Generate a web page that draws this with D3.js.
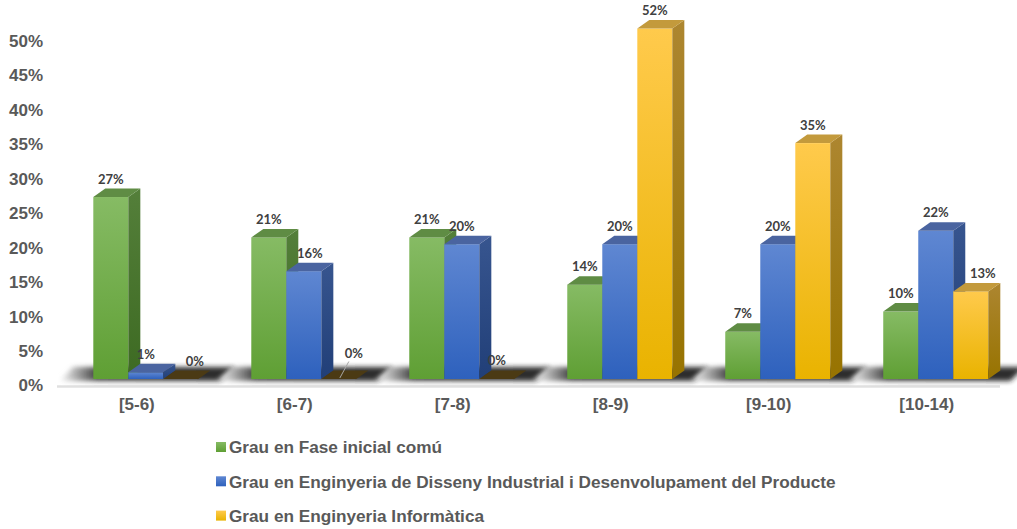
<!DOCTYPE html>
<html>
<head>
<meta charset="utf-8">
<script src="https://cdn.jsdelivr.net/npm/d3@7"></script>
<style>
  body { margin: 0; background: #fff; }
  svg { display: block; }
  .axis text { font-family: "Liberation Sans", Arial, sans-serif; font-weight: bold; font-size: 17px; fill: #595959; }
  .lbl { font-family: Lato, "Open Sans", sans-serif; font-weight: bold; font-size: 13px; fill: #404040; }
  .legend text { font-family: "Liberation Sans", Arial, sans-serif; font-weight: bold; font-size: 17.2px; fill: #595959; }
</style>
</head>
<body>
<svg id="chart" width="1017" height="529"></svg>
<script>
var categories = ["[5-6)", "[6-7)", "[7-8)", "[8-9)", "[9-10)", "[10-14)"];
var seriesNames = [
  "Grau en Fase inicial comú",
  "Grau en Enginyeria de Disseny Industrial i Desenvolupament del Producte",
  "Grau en Enginyeria Informàtica"
];
var faseInicial = [27, 21, 21, 14, 7, 10];
var disseny = [1, 16, 20, 20, 20, 22];
var informatica = [0, 0, 0, 52, 35, 13];
var yTicks = [0, 5, 10, 15, 20, 25, 30, 35, 40, 45, 50];

var seriesValues = [faseInicial, disseny, informatica];

// colours per series: front top/bottom, side top/bottom, top face
var palette = [
  { f1: "#86bb64", f2: "#5f9f34", s1: "#547f3a", s2: "#3d6a22", t: "#5f8c44" },
  { f1: "#5f87d2", f2: "#2e61bd", s1: "#37558f", s2: "#213f78", t: "#4a64a0" },
  { f1: "#ffca4c", f2: "#e9b300", s1: "#ad8630", s2: "#977300", t: "#c39a3c" }
];

var svg = d3.select("#chart");
var depthX = 12, depthY = 8.5;
var floorY = 379;

var x0 = d3.scaleBand().domain(categories).range([93.3, 988.3]).paddingInner(0.335).paddingOuter(0);
var x1 = d3.scaleBand().domain(d3.range(3)).range([0, x0.bandwidth()]);
var y = d3.scaleLinear().domain([0, 50]).range([floorY, floorY - 337]);
var yAxisScale = d3.scaleLinear().domain([0, 50]).range([385.5, 41]);

// gradients
var defs = svg.append("defs");
palette.forEach(function(p, i) {
  var g = defs.append("linearGradient").attr("id", "front" + i).attr("x1", 0).attr("y1", 0).attr("x2", 0).attr("y2", 1);
  g.append("stop").attr("offset", "0%").attr("stop-color", p.f1);
  g.append("stop").attr("offset", "100%").attr("stop-color", p.f2);
  var s = defs.append("linearGradient").attr("id", "side" + i).attr("x1", 0).attr("y1", 0).attr("x2", 0).attr("y2", 1);
  s.append("stop").attr("offset", "0%").attr("stop-color", p.s1);
  s.append("stop").attr("offset", "100%").attr("stop-color", p.s2);
});
var sg = defs.append("linearGradient").attr("id", "shadow").attr("x1", 0).attr("y1", 0).attr("x2", 1).attr("y2", 0);
sg.append("stop").attr("offset", "0%").attr("stop-color", "#ffffff");
sg.append("stop").attr("offset", "22%").attr("stop-color", "#2e2e2e");
sg.append("stop").attr("offset", "100%").attr("stop-color", "#1a1a1a");
defs.append("filter").attr("id", "blur").attr("x", "-20%").attr("y", "-100%").attr("width", "140%").attr("height", "300%")
  .append("feGaussianBlur").attr("stdDeviation", 2.5);

// y axis labels
svg.append("g").attr("class", "axis")
  .selectAll("text").data(yTicks).join("text")
  .attr("x", 43).attr("y", function(d) { return yAxisScale(d); })
  .attr("dy", "0.35em").attr("text-anchor", "end")
  .text(function(d) { return d + "%"; });

// floor line
svg.append("line").attr("x1", 57).attr("x2", 1000).attr("y1", 386.5).attr("y2", 386.5)
  .attr("stroke", "#e0e0e0").attr("stroke-width", 2.5);

// floor shadows
svg.append("g").selectAll("polygon").data(categories).join("polygon")
  .attr("points", function(d) {
    var a = x0(d) - 34, b = x0(d) + x0.bandwidth() + 22;
    return [[a, floorY + 2], [a + 14, floorY - 12], [b + 14, floorY - 12], [b, floorY + 2]].join(" ");
  })
  .attr("fill", "url(#shadow)")
  .attr("opacity", 0.92)
  .attr("filter", "url(#blur)");

// bars
var groups = svg.append("g").selectAll("g").data(categories).join("g")
  .attr("transform", function(d) { return "translate(" + x0(d) + ",0)"; });

// label shifts where the labels would collide (series index after the dash)
var labelNudge = { "0-2": [14, 0], "1-1": [6, 0], "1-2": [15, -8], "2-2": [0, -1], "5-2": [12, 0] };

groups.each(function(cat, ci) {
  var g = d3.select(this);
  seriesValues.forEach(function(vals, si) {
    var v = vals[ci];
    var bx = x1(si), bw = x1.bandwidth();
    var top = y(v);
    var p = palette[si];
    if (v > 0) {
      g.append("rect").attr("x", bx).attr("y", top).attr("width", bw).attr("height", floorY - top)
        .attr("fill", "url(#front" + si + ")");
      g.append("polygon")
        .attr("points", [[bx + bw, top], [bx + bw + depthX, top - depthY], [bx + bw + depthX, floorY - depthY], [bx + bw, floorY]].join(" "))
        .attr("fill", "url(#side" + si + ")");
      g.append("polygon")
        .attr("points", [[bx, top], [bx + depthX, top - depthY], [bx + bw + depthX, top - depthY], [bx + bw, top]].join(" "))
        .attr("fill", p.t);
    } else {
      g.append("polygon")
        .attr("points", [[bx, top], [bx + depthX, top - depthY], [bx + bw + depthX, top - depthY], [bx + bw, top]].join(" "))
        .attr("fill", "#4b3a14");
    }
  });
});

// data labels drawn last so bars never cover them
groups.each(function(cat, ci) {
  var g = d3.select(this);
  seriesValues.forEach(function(vals, si) {
    var v = vals[ci];
    var bx = x1(si), bw = x1.bandwidth();
    var top = y(v);
    var nudge = labelNudge[ci + "-" + si] || [0, 0];
    var lx = bx + bw / 2 + nudge[0];
    var ly = top - depthY - 5 + nudge[1];
    if (nudge[1] < -5) {
      g.append("line").attr("x1", bx + bw / 2 + 1).attr("y1", top - 1).attr("x2", lx - 5).attr("y2", ly + 4)
        .attr("stroke", "#a6a6a6").attr("stroke-width", 1);
    }
    g.append("text").attr("class", "lbl").attr("x", lx).attr("y", ly)
      .attr("text-anchor", "middle").text(v + "%");
  });
});

// category labels
svg.append("g").attr("class", "axis")
  .selectAll("text").data(categories).join("text")
  .attr("x", function(d) { return x0(d) + x0.bandwidth() / 2 - 9; })
  .attr("y", 410).attr("text-anchor", "middle")
  .text(function(d) { return d; });

// legend
var legend = svg.append("g").attr("class", "legend")
  .selectAll("g").data(seriesNames).join("g")
  .attr("transform", function(d, i) { return "translate(216," + (447 + i * 34.3) + ")"; });
legend.append("rect").attr("x", 0).attr("y", -5).attr("width", 10).attr("height", 10)
  .attr("fill", function(d, i) { return "url(#front" + i + ")"; });
legend.append("text").attr("x", 13).attr("y", 0).attr("dy", "0.36em").text(function(d) { return d; });
</script>
</body>
</html>
